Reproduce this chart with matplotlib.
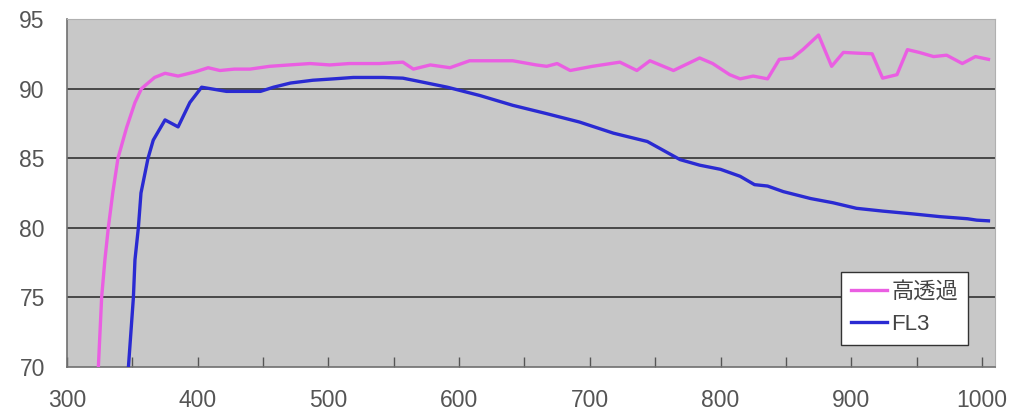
import matplotlib
matplotlib.use("Agg")
import matplotlib.pyplot as plt

plt.rcParams['font.family'] = ['Liberation Sans', 'Noto Sans CJK JP', 'DejaVu Sans']

# 高透過 series (wavelength, transmittance)
pink_x = [323.5, 324, 326.5, 329, 331.6, 335, 339, 345.6, 352, 357, 367, 375, 385, 398, 408, 417, 428, 440,
          455, 470, 486, 501, 516, 539, 557, 565, 578, 593, 608, 641, 659, 667, 675, 685,
          702, 723, 736, 746, 764, 784, 794, 807, 815, 825, 836, 845, 855, 863, 875, 885,
          894, 904, 916, 924, 935, 943, 952, 963, 973, 985, 995, 1005]
pink_y = [69.0, 70.0, 75.0, 77.7, 80.0, 82.5, 85.0, 87.2, 89.0, 90.0, 90.8, 91.1, 90.9, 91.2, 91.5, 91.3, 91.4, 91.4,
          91.6, 91.7, 91.8, 91.7, 91.8, 91.8, 91.9, 91.4, 91.7, 91.5, 92.0, 92.0, 91.7, 91.6, 91.8, 91.3,
          91.6, 91.9, 91.3, 92.0, 91.3, 92.2, 91.8, 91.0, 90.7, 90.9, 90.7, 92.1, 92.2, 92.8, 93.85, 91.6,
          92.6, 92.55, 92.5, 90.75, 91.0, 92.8, 92.6, 92.3, 92.4, 91.8, 92.3, 92.1]

# FL3 series
blue_x = [346.5, 347, 350.8, 352, 354.6, 356.6, 362, 366, 375, 385, 394, 403, 422, 448, 458, 471, 488, 504,
          519, 542, 557, 565, 591, 616, 641, 667, 692, 718, 744, 769, 784, 800, 815, 826,
          836, 848, 869, 886, 904, 924, 947, 968, 989, 996, 1005]
blue_y = [69.0, 70.0, 75.0, 77.7, 80.0, 82.5, 85.0, 86.3, 87.75, 87.25, 89.0, 90.1, 89.8, 89.8, 90.1, 90.4, 90.6, 90.7,
          90.8, 90.8, 90.75, 90.6, 90.1, 89.5, 88.8, 88.2, 87.6, 86.8, 86.2, 84.9, 84.5, 84.2, 83.7, 83.1,
          83.0, 82.6, 82.1, 81.8, 81.4, 81.2, 81.0, 80.8, 80.65, 80.55, 80.5]

labels = ['高透過', 'FL3']
xticks = [300, 400, 500, 600, 700, 800, 900, 1000]
minor_xticks = [350, 450, 550, 650, 750, 850, 950]
yticks = [70, 75, 80, 85, 90, 95]
grid_levels = [75, 80, 85, 90]

fig = plt.figure(figsize=(10.17, 4.13), dpi=100)
ax = fig.add_axes([67/1017, 1 - 367/413, (995-67)/1017, (367-19)/413])
ax.set_facecolor('#c8c8c8')

for g in grid_levels:
    ax.axhline(g, color='#333333', lw=1.2, zorder=1)

ax.plot(pink_x, pink_y, color='#ea5ee2', lw=2.4, label=labels[0], zorder=3)
ax.plot(blue_x, blue_y, color='#2a2ad2', lw=2.4, label=labels[1], zorder=3)

ax.set_xlim(300, 1010)
ax.set_ylim(70, 95)
ax.set_xticks(xticks)
ax.set_xticks(minor_xticks, minor=True)
ax.set_yticks(yticks)
ax.tick_params(axis='x', which='both', direction='in', length=7, width=1, color='#555555',
               labelsize=16.5, labelcolor='#555555', pad=16)
ax.tick_params(axis='y', length=0, labelsize=16.5, labelcolor='#555555', pad=16)

for side in ['top', 'right']:
    ax.spines[side].set_color('#b0b0b0')
for side in ['left', 'bottom']:
    ax.spines[side].set_color('#707070')
    ax.spines[side].set_linewidth(1.2)

leg = ax.legend(loc='lower right', fontsize=16, frameon=True, fancybox=False,
                edgecolor='#333333', framealpha=1, handlelength=1.6, handletextpad=0.2,
                borderpad=0.45, labelspacing=0.5, borderaxespad=0)
leg.get_frame().set_linewidth(1.0)
for t in leg.get_texts():
    t.set_color('#444444')
leg.set_bbox_to_anchor((968/1017, 1 - 345/413), transform=fig.transFigure)

fig.savefig('out.png', dpi=100, facecolor='white')
